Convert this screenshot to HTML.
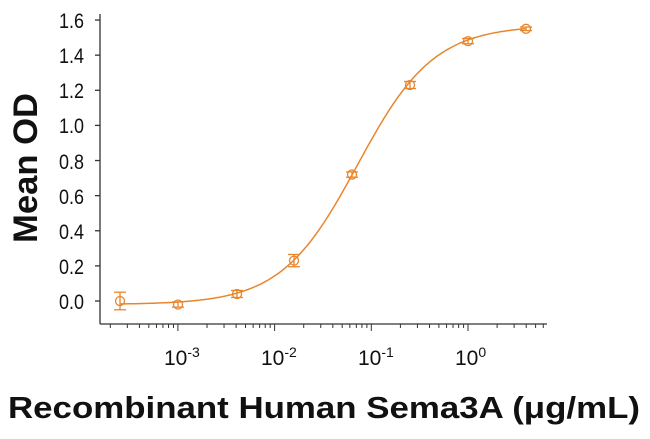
<!DOCTYPE html>
<html><head><meta charset="utf-8"><style>
html,body{margin:0;padding:0;background:#fff;}
svg{display:block;}
.t{font-family:"Liberation Sans",sans-serif;font-size:21px;fill:#111;}
</style></head><body>
<svg id="s" width="650" height="439" viewBox="0 0 650 439" xmlns="http://www.w3.org/2000/svg">
<g stroke="#333" stroke-width="1.3" fill="none">
<line x1="100" y1="14" x2="100" y2="324"/>
<line x1="100" y1="324" x2="547" y2="324"/>
</g>
<g id="yt" stroke="#333" stroke-width="1.3"></g>
<g id="xt" stroke="#333" stroke-width="1"></g>
<g class="t" text-anchor="end">
<text x="84" y="28" textLength="25" lengthAdjust="spacingAndGlyphs">1.6</text><text x="84" y="63" textLength="25" lengthAdjust="spacingAndGlyphs">1.4</text><text x="84" y="98" textLength="25" lengthAdjust="spacingAndGlyphs">1.2</text>
<text x="84" y="133" textLength="25" lengthAdjust="spacingAndGlyphs">1.0</text><text x="84" y="169" textLength="25" lengthAdjust="spacingAndGlyphs">0.8</text><text x="84" y="204" textLength="25" lengthAdjust="spacingAndGlyphs">0.6</text>
<text x="84" y="239" textLength="25" lengthAdjust="spacingAndGlyphs">0.4</text><text x="84" y="274" textLength="25" lengthAdjust="spacingAndGlyphs">0.2</text><text x="84" y="309" textLength="25" lengthAdjust="spacingAndGlyphs">0.0</text>
</g>
<g class="t">
<text x="164" y="365">10<tspan dy="-8" font-size="14">-3</tspan></text>
<text x="261" y="365">10<tspan dy="-8" font-size="14">-2</tspan></text>
<text x="358" y="365">10<tspan dy="-8" font-size="14">-1</tspan></text>
<text x="455" y="365">10<tspan dy="-8" font-size="14">0</tspan></text>
</g>
<text x="8" y="418" textLength="632" lengthAdjust="spacingAndGlyphs" font-family="Liberation Sans,sans-serif" font-weight="bold" font-size="31" fill="#111">Recombinant Human Sema3A (μg/mL)</text>
<text transform="translate(37,243) rotate(-90)" textLength="150" lengthAdjust="spacingAndGlyphs" font-family="Liberation Sans,sans-serif" font-weight="bold" font-size="34" fill="#111">Mean OD</text>
<path id="curve" fill="none" stroke="#e8862e" stroke-width="1.5"/>
<g id="pts" fill="none" stroke="#e8862e" stroke-width="1.3"></g>
</svg>
<script>
var NS="http://www.w3.org/2000/svg";
function el(p,t,a){var e=document.createElementNS(NS,t);for(var k in a)e.setAttribute(k,a[k]);document.getElementById(p).appendChild(e);}
function Y(v){return 301-v*175.6;}
function X(c){return 468+Math.log10(c)*96.7;}
for(var i=0;i<=8;i++){var y=Y(i*0.2);el("yt","line",{x1:95,y1:y,x2:100,y2:y});}
for(var d=-4;d<=0;d++){for(var m=1;m<=9;m++){var x=X(m*Math.pow(10,d));if(x<103||x>547)continue;el("xt","line",{x1:x,y1:324,x2:x,y2:m==1?331:328});}}
function f(c){return -0.02+1.59/(1+Math.pow(0.072/c,1.1));}
var p="";for(var x=120;x<=527;x+=2){var c=Math.pow(10,(x-468)/96.7);p+=(p?"L":"M")+x+","+Y(f(c)).toFixed(1);}
document.getElementById("curve").setAttribute("d",p);
var data=[[120,0,0.05],[178,-0.02,0.015],[237,0.04,0.02],[294,0.23,0.035],[352,0.72,0.015],[410,1.23,0.02],[468,1.48,0.015],[526,1.55,0.01]];
data.forEach(function(d){var y=Y(d[1]),e=d[2]*175.6;
el("pts","line",{x1:d[0],y1:y-e,x2:d[0],y2:y+e});
el("pts","line",{x1:d[0]-6,y1:y-e,x2:d[0]+6,y2:y-e});
el("pts","line",{x1:d[0]-6,y1:y+e,x2:d[0]+6,y2:y+e});
el("pts","circle",{cx:d[0],cy:y,r:4.5});});
</script>
</body></html>
